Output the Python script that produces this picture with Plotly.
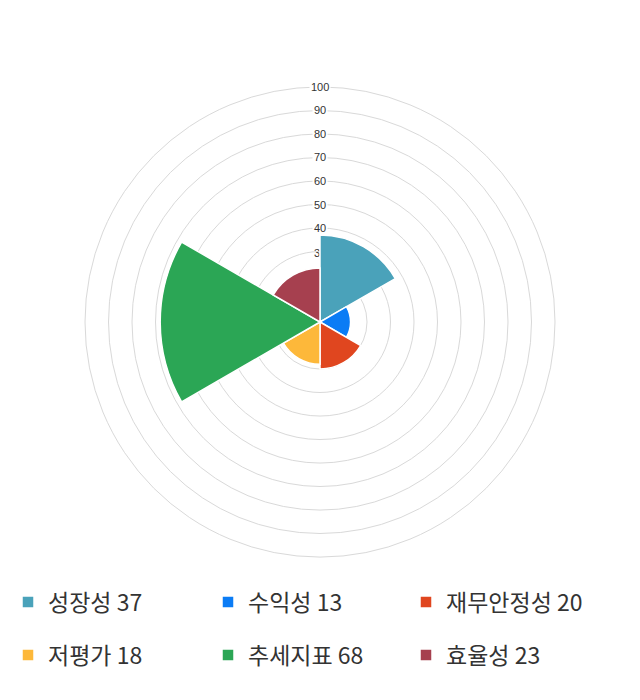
import plotly.graph_objects as go

categories = ["성장성", "수익성", "재무안정성", "저평가", "추세지표", "효율성"]
values = [37, 13, 20, 18, 68, 23]
colors = ["#4aa2ba", "#0b7cf5", "#e0461f", "#fdb83a", "#2ba655", "#a6404f"]
theta_centers = [30, 90, 150, 210, 270, 330]
tick_vals = [10, 20, 30, 40, 50, 60, 70, 80, 90, 100]

W, H = 640, 700
cx, cy, R = 320, 322, 235
grid_color = "#d9d9d9"
leg_font = dict(size=23, color="#333333", family="Noto Sans CJK KR")
legend_names = ["legend", "legend2", "legend3", "legend4", "legend5", "legend6"]
legend_x = [8, 208, 406, 8, 208, 406]
legend_y = [602, 602, 602, 655, 655, 655]

fig = go.Figure()
for i, (cat, val, col, th) in enumerate(zip(categories, values, colors, theta_centers)):
    fig.add_trace(go.Barpolar(
        r=[val], theta=[th], width=[60],
        name=f"{cat} {val}",
        marker=dict(color=col, line=dict(color="white", width=1.5)),
        legend=legend_names[i],
        hoverinfo="skip",
    ))

legends = {}
for name, lx, ly in zip(legend_names, legend_x, legend_y):
    legends[name] = dict(orientation="h", x=lx / W, xanchor="left", y=(H - ly) / H,
                         yanchor="middle", font=leg_font, bgcolor="rgba(0,0,0,0)")

# radial tick labels: above-trace labels get a white box (gaps in grid),
# labels lying under the bars are drawn below the traces
top_cover = max(values[0], values[-1])
tick_font = dict(family="Liberation Sans", size=11, color="#333333")
annotations, shapes = [], []
for v in tick_vals:
    px = cx / W
    py = (H - (cy - R * v / 100)) / H
    if v > top_cover:
        annotations.append(dict(x=px, y=py, xref="paper", yref="paper", text=str(v),
                                showarrow=False, bgcolor="white", borderpad=1,
                                font=tick_font, xanchor="center", yanchor="middle"))
    else:
        shapes.append(dict(type="rect", xref="paper", yref="paper", layer="below",
                           x0=px - 0.02, x1=px + 0.02, y0=py - 0.01, y1=py + 0.01,
                           line=dict(width=0), fillcolor="rgba(0,0,0,0)",
                           label=dict(text=str(v), textposition="middle center",
                                      font=tick_font)))

fig.update_layout(
    width=W, height=H,
    margin=dict(l=0, r=0, t=0, b=0, autoexpand=False),
    paper_bgcolor="white",
    plot_bgcolor="white",
    font=dict(family="Noto Sans CJK KR", color="#333333"),
    polar=dict(
        domain=dict(x=[(cx - R) / W, (cx + R) / W], y=[(H - cy - R) / H, (H - cy + R) / H]),
        bgcolor="rgba(0,0,0,0)",
        hole=0,
        radialaxis=dict(
            range=[0, 100], tickvals=tick_vals, showline=False, ticks="",
            showticklabels=False, angle=90, layer="below traces",
            gridcolor=grid_color, gridwidth=1,
        ),
        angularaxis=dict(
            rotation=90, direction="clockwise", showgrid=False, showline=True,
            linecolor=grid_color, linewidth=1, layer="below traces",
            showticklabels=False, ticks="",
        ),
    ),
    annotations=annotations,
    shapes=shapes,
    showlegend=True,
    **legends,
)
fig.write_html("out.html", config={"displayModeBar": False},
               post_script="document.body.style.margin='0px';")
